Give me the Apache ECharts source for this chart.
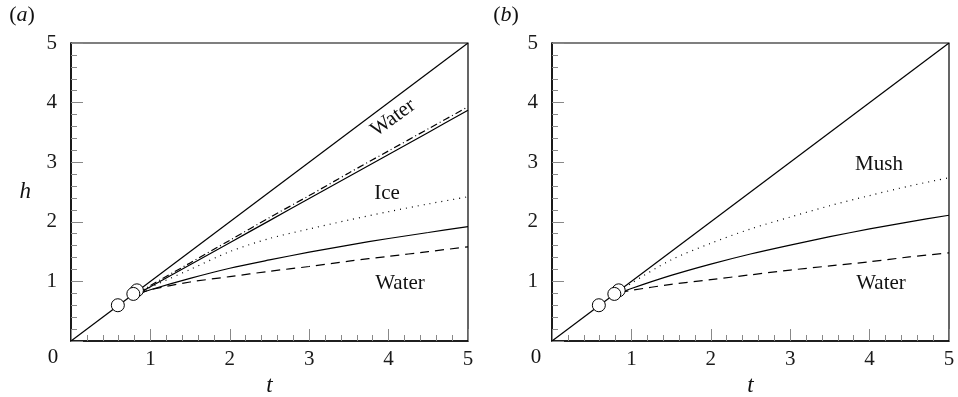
<!DOCTYPE html>
<html>
<head>
<meta charset="utf-8">
<script src="https://cdn.jsdelivr.net/npm/echarts@6/dist/echarts.min.js"></script>
<style>
  html, body { margin: 0; padding: 0; background: #fff; }
  #chart { width: 958px; height: 397px; }
</style>
</head>
<body>
<div id="chart"></div>
<script>
// sample times shared by the curves
var tVals = [0.85, 1, 1.5, 2, 2.5, 3, 3.5, 4, 4.5, 5];
var tickLabels = ['0', '1', '2', '3', '4', '5'];

// panel (a)
var aDiag = [[0, 0], [5, 5]];
var aUpperSolid = [0.80, 0.91, 1.28, 1.65, 2.02, 2.39, 2.76, 3.13, 3.50, 3.87];
var aDashDot = [0.81, 0.93, 1.31, 1.69, 2.07, 2.44, 2.82, 3.19, 3.56, 3.93];
var aDotted = [0.80, 0.90, 1.20, 1.50, 1.72, 1.88, 2.03, 2.17, 2.30, 2.42];
var aLowerSolid = [0.79, 0.86, 1.05, 1.22, 1.36, 1.49, 1.61, 1.72, 1.82, 1.92];
var aDashed = [0.79, 0.86, 0.99, 1.08, 1.17, 1.25, 1.34, 1.42, 1.50, 1.58];
var aCircles = [[0.83, 0.85], [0.785, 0.79], [0.59, 0.60]];

// panel (b)
var bDiag = [[0, 0], [5, 5]];
var bDotted = [0.82, 0.97, 1.36, 1.64, 1.88, 2.08, 2.27, 2.44, 2.60, 2.74];
var bSolid = [0.80, 0.88, 1.10, 1.29, 1.46, 1.61, 1.75, 1.88, 2.00, 2.11];
var bDashed = [0.81, 0.85, 0.95, 1.03, 1.11, 1.19, 1.26, 1.33, 1.41, 1.48];
var bCircles = [[0.84, 0.85], [0.785, 0.79], [0.59, 0.60]];

function pairs(h) {
    var out = [];
    for (var i = 0; i < tVals.length; i++) {
        out.push([tVals[i], h[i]]);
    }
    return out;
}

var serif = 'Liberation Serif';
var myChart = echarts.init(document.getElementById('chart'));

function xAxisFor(idx) {
    return {
        gridIndex: idx, type: 'value', min: 0, max: 5, interval: 1,
        name: 't', nameLocation: 'middle', nameGap: 32,
        nameTextStyle: { fontFamily: serif, fontStyle: 'italic', fontSize: 23, color: '#111' },
        axisLine: { lineStyle: { color: '#000', width: 1.5 } },
        axisTick: { inside: true, length: 12, lineStyle: { color: '#888' } },
        minorTick: { show: true, splitNumber: 5, length: 6, lineStyle: { color: '#888' } },
        splitLine: { show: false },
        axisLabel: {
            margin: 8, fontFamily: serif, fontSize: 21, color: '#1a1a1a',
            formatter: function (v) { return v === 0 ? '' : tickLabels[v]; }
        }
    };
}

function yAxisFor(idx, name) {
    return {
        gridIndex: idx, type: 'value', min: 0, max: 5, interval: 1,
        name: name, nameLocation: 'middle', nameGap: 40, nameRotate: 0,
        nameTextStyle: { fontFamily: serif, fontStyle: 'italic', fontSize: 23, color: '#111' },
        axisLine: { lineStyle: { color: '#000', width: 1.5 } },
        axisTick: { inside: true, length: 12, lineStyle: { color: '#888' } },
        minorTick: { show: true, splitNumber: 5, length: 6, lineStyle: { color: '#888' } },
        splitLine: { show: false },
        axisLabel: {
            margin: 14, fontFamily: serif, fontSize: 21, color: '#1a1a1a',
            formatter: function (v) { return v === 0 ? '' : tickLabels[v]; }
        }
    };
}

function line(idx, data, type, width) {
    return {
        type: 'line', xAxisIndex: idx, yAxisIndex: idx, data: data,
        smooth: 0.3, symbol: 'none', silent: true,
        lineStyle: { color: '#000', width: width || 1.2, type: type || 'solid' },
        z: 3
    };
}

function circles(idx, data) {
    return {
        type: 'scatter', xAxisIndex: idx, yAxisIndex: idx, data: data,
        symbolSize: 13, silent: true,
        itemStyle: { color: '#fff', borderColor: '#000', borderWidth: 1, opacity: 1 },
        z: 5
    };
}

function label(text, x, y, opts) {
    opts = opts || {};
    return {
        type: 'text', x: x, y: y, rotation: opts.rotation || 0, z: 10,
        style: {
            text: text, fontFamily: serif, fontSize: opts.size || 21,
            fill: '#111', align: 'center', verticalAlign: 'middle',
            rich: { i: { fontFamily: serif, fontStyle: 'italic', fontSize: opts.size || 21, fill: '#111' } }
        }
    };
}

var option = {
    animation: false,
    grid: [
        { left: 71, top: 43, width: 397, height: 298, show: true, borderColor: '#000', borderWidth: 1.2, outerBoundsMode: 'none' },
        { left: 552, top: 43, width: 397, height: 298, show: true, borderColor: '#000', borderWidth: 1.2, outerBoundsMode: 'none' }
    ],
    xAxis: [xAxisFor(0), xAxisFor(1)],
    yAxis: [yAxisFor(0, 'h'), yAxisFor(1, '')],
    series: [
        line(0, aDiag),
        line(0, pairs(aUpperSolid)),
        line(0, pairs(aDashDot), [7, 3, 1, 3]),
        line(0, pairs(aDotted), [1, 5]),
        line(0, pairs(aLowerSolid)),
        line(0, pairs(aDashed), [9, 6]),
        circles(0, aCircles),
        line(1, bDiag),
        line(1, pairs(bDotted), [1, 5]),
        line(1, pairs(bSolid)),
        line(1, pairs(bDashed), [9, 6]),
        circles(1, bCircles)
    ],
    graphic: [
        label('({i|a})', 22, 15, { size: 22 }),
        label('({i|b})', 506, 15, { size: 22 }),
        label('0', 53, 357),
        label('0', 536, 357),
        label('Water', 393, 118, { rotation: 36 * Math.PI / 180 }),
        label('Ice', 387, 193),
        label('Water', 400, 283),
        label('Mush', 879, 164),
        label('Water', 881, 283)
    ]
};

myChart.setOption(option);
window.onresize = myChart.resize;
</script>
</body>
</html>
